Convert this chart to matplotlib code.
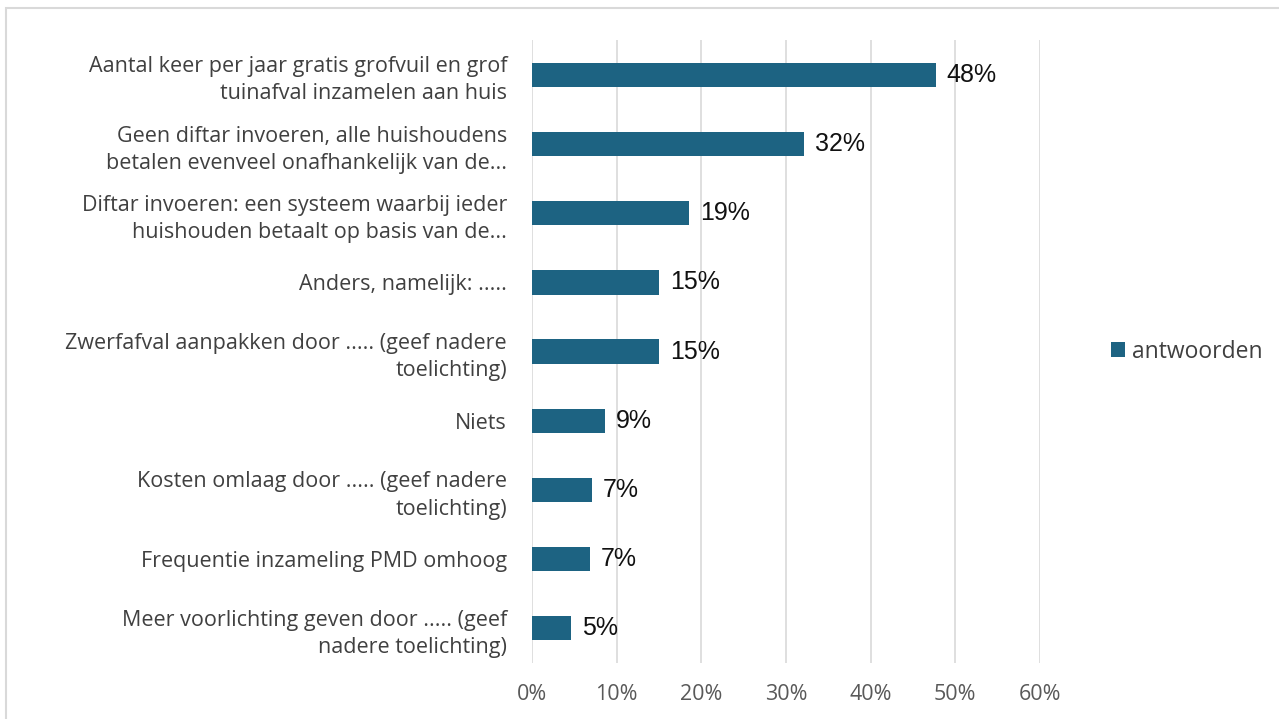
import matplotlib.pyplot as plt
from matplotlib.patches import Rectangle

plt.rcParams['font.family'] = ['Open Sans', 'DejaVu Sans']

labels = [
    "Aantal keer per jaar gratis grofvuil en grof\ntuinafval inzamelen aan huis",
    "Geen diftar invoeren, alle huishoudens\nbetalen evenveel onafhankelijk van de...",
    "Diftar invoeren: een systeem waarbij ieder\nhuishouden betaalt op basis van de...",
    "Anders, namelijk: .....",
    "Zwerfafval aanpakken door ..... (geef nadere\ntoelichting)",
    "Niets",
    "Kosten omlaag door ..... (geef nadere\ntoelichting)",
    "Frequentie inzameling PMD omhoog",
    "Meer voorlichting geven door ..... (geef\nnadere toelichting)",
]
values = [47.7, 32.1, 18.6, 15.0, 15.0, 8.6, 7.1, 6.8, 4.6]
ticks = [0, 10, 20, 30, 40, 50, 60]

bar_color = "#1D6382"

fig = plt.figure(figsize=(12.79, 7.19), dpi=100)
ax = fig.add_axes([0.416, 0.078, 0.397, 0.866])

fig.patches.append(Rectangle((0.005, -0.01), 1.0, 0.999, transform=fig.transFigure,
                             fill=False, edgecolor="#d9d9d9", linewidth=1.5))

y = range(len(values))
bars = ax.barh(y, values, height=0.35, color=bar_color, label="antwoorden", zorder=3)
ax.set_ylim(len(values) - 0.5, -0.5)
ax.set_xlim(0, 60)
ax.set_xticks(ticks)
ax.set_xticklabels([f"{t}%" for t in ticks], color="#595959", fontsize=15.5)
ax.set_yticks(list(y))
ax.set_yticklabels(labels, color="#404040", fontsize=15.5, linespacing=1.38)
ax.tick_params(axis="both", length=0)
ax.tick_params(axis="y", pad=18)
ax.tick_params(axis="x", pad=15)
ax.grid(axis="x", color="#d9d9d9", linewidth=1.2, zorder=0)
for s in ax.spines.values():
    s.set_visible(False)

for b, v in zip(bars, values):
    ax.text(b.get_width() + 1.3, b.get_y() + b.get_height() / 2, f"{v:.0f}%",
            va="center", ha="left", fontsize=18, color="#111111",
            family=["Liberation Sans", "DejaVu Sans"])

ax.legend(loc="center left", bbox_to_anchor=(1.10, 0.5), frameon=False,
          fontsize=16.5, labelcolor="#404040", handlelength=0.6, handleheight=0.6,
          handletextpad=0.3)

fig.savefig("out.png", dpi=100)
